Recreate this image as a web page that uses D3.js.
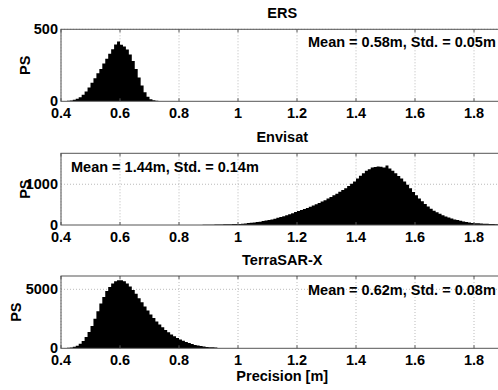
<!DOCTYPE html>
<html>
<head>
<meta charset="utf-8">
<script src="https://cdn.jsdelivr.net/npm/d3@7"></script>
<style>
  body { margin: 0; background: #fff; }
  text { font-family: "Liberation Sans", Arial, sans-serif; font-weight: bold; font-size: 14.5px; fill: #000; }
</style>
</head>
<body>
<div id="chart"></div>
<script>
// histogram counts, 0.01 m bins, first bin edge in *Start
const ersStart = 0.40
const ersCounts = [0, 1, 3, 6, 10, 18, 28, 45, 68, 95, 128, 160, 195, 225, 262, 295, 330, 362, 395, 415,
  392, 380, 360, 325, 280, 225, 165, 110, 62, 32, 15, 7, 3, 1, 0]

const envStart = 0.87
const envCounts = [3, 5, 6, 8, 9, 11, 13, 15, 16, 18, 20, 22, 24, 27, 31, 38, 48, 55, 62, 72,
  82, 98, 108, 125, 138, 155, 178, 198, 215, 240, 262, 290, 318, 345, 370, 395, 420, 448, 480, 510,
  540, 575, 610, 650, 690, 730, 770, 815, 860, 905, 955, 1010, 1070, 1140, 1210, 1270, 1330, 1370, 1410, 1425,
  1435, 1430, 1410, 1460, 1385, 1330, 1270, 1200, 1140, 1070, 990, 900, 810, 730, 650, 585, 515, 455, 400, 350,
  310, 275, 240, 210, 185, 160, 138, 120, 102, 88, 72, 60, 50, 44, 40, 36, 33, 30, 26, 22, 16, 12]

const tsxStart = 0.40
const tsxCounts = [0, 15, 40, 75, 130, 220, 380, 620, 950, 1380, 1900, 2500, 3150, 3800, 4350, 4850, 5200, 5500, 5680, 5780,
  5760, 5680, 5500, 5250, 4950, 4620, 4250, 3900, 3550, 3200, 2870, 2560, 2280, 2020, 1780, 1560, 1360, 1180, 1020, 870,
  740, 630, 530, 440, 360, 290, 230, 185, 150, 120, 95, 80, 60, 30]

const binWidth = 0.01
const xTicks = [0.4, 0.6, 0.8, 1, 1.2, 1.4, 1.6, 1.8]

const panels = [
  {title: "ERS", start: ersStart, counts: ersCounts, ymax: 500, yTicks: [0, 500],
   stats: "Mean = 0.58m, Std. = 0.05m", top: 29.3, bottom: 101.3, statX: 308, statY: 46.7, psX: 25},
  {title: "Envisat", start: envStart, counts: envCounts, ymax: 1760, yTicks: [0, 1000],
   stats: "Mean = 1.44m, Std. = 0.14m", top: 153.3, bottom: 225, statX: 71, statY: 171.7, psX: 25},
  {title: "TerraSAR-X", start: tsxStart, counts: tsxCounts, ymax: 6130, yTicks: [0, 5000],
   stats: "Mean = 0.62m, Std. = 0.08m", top: 276, bottom: 348.3, statX: 308, statY: 295, psX: 16}
]

const width = 498, height = 390
const left = 61, right = 503.5

const x = d3.scaleLinear().domain([0.4, 1.9]).range([left, right])

const svg = d3.select("#chart").append("svg")
  .attr("width", width)
  .attr("height", height)

panels.forEach((p, i) => {
  const y = d3.scaleLinear().domain([0, p.ymax]).range([p.bottom, p.top])
  const g = svg.append("g")

  g.append("clipPath").attr("id", "clip" + i)
    .append("rect")
    .attr("x", left).attr("y", p.top)
    .attr("width", right - left).attr("height", p.bottom - p.top)

  // grid
  g.selectAll(".vgrid").data(xTicks).join("line")
    .attr("x1", d => x(d)).attr("x2", d => x(d))
    .attr("y1", p.top).attr("y2", p.bottom)
    .attr("stroke", "#aaa").attr("stroke-width", 0.8)
    .attr("stroke-dasharray", "1,2")
  g.selectAll(".hgrid").data(p.yTicks.slice(1)).join("line")
    .attr("x1", left).attr("x2", right)
    .attr("y1", d => y(d)).attr("y2", d => y(d))
    .attr("stroke", "#aaa").attr("stroke-width", 0.8)
    .attr("stroke-dasharray", "1,2")

  // histogram
  const bins = p.counts.map((c, k) => ({x0: p.start + k * binWidth, v: c}))
  bins.push({x0: p.start + p.counts.length * binWidth, v: 0})
  const area = d3.area()
    .curve(d3.curveStepAfter)
    .x(d => x(d.x0))
    .y0(y(0))
    .y1(d => y(d.v))
  g.append("path")
    .datum(bins)
    .attr("clip-path", `url(#clip${i})`)
    .attr("fill", "#000")
    .attr("d", area)

  // box
  g.append("rect")
    .attr("x", left).attr("y", p.top)
    .attr("width", right - left).attr("height", p.bottom - p.top)
    .attr("fill", "none").attr("stroke", "#555").attr("stroke-width", 1)

  // ticks
  g.selectAll(".tb").data(xTicks).join("line")
    .attr("x1", d => x(d)).attr("x2", d => x(d))
    .attr("y1", p.bottom).attr("y2", p.bottom - 3)
    .attr("stroke", "#555")
  g.selectAll(".tt").data(xTicks).join("line")
    .attr("x1", d => x(d)).attr("x2", d => x(d))
    .attr("y1", p.top).attr("y2", p.top + 3)
    .attr("stroke", "#555")

  g.selectAll(".xl").data(xTicks).join("text")
    .attr("x", d => x(d))
    .attr("y", p.bottom + 16.5)
    .attr("text-anchor", "middle")
    .text(d => d3.format("~g")(d))

  g.selectAll(".yl").data(p.yTicks).join("text")
    .attr("x", left - 3)
    .attr("y", d => y(d) + 4.5)
    .attr("text-anchor", "end")
    .text(d => d)

  g.append("text")
    .attr("transform", `translate(${p.psX + 5},${(p.top + p.bottom) / 2}) rotate(-90)`)
    .attr("text-anchor", "middle")
    .text("PS")

  g.append("text")
    .attr("x", (left + right) / 2)
    .attr("y", p.top - 11)
    .attr("text-anchor", "middle")
    .text(p.title)

  g.append("text")
    .attr("x", p.statX)
    .attr("y", p.statY)
    .text(p.stats)
})

svg.append("text")
  .attr("x", (left + right) / 2)
  .attr("y", 381)
  .attr("text-anchor", "middle")
  .text("Precision [m]")
</script>
</body>
</html>
